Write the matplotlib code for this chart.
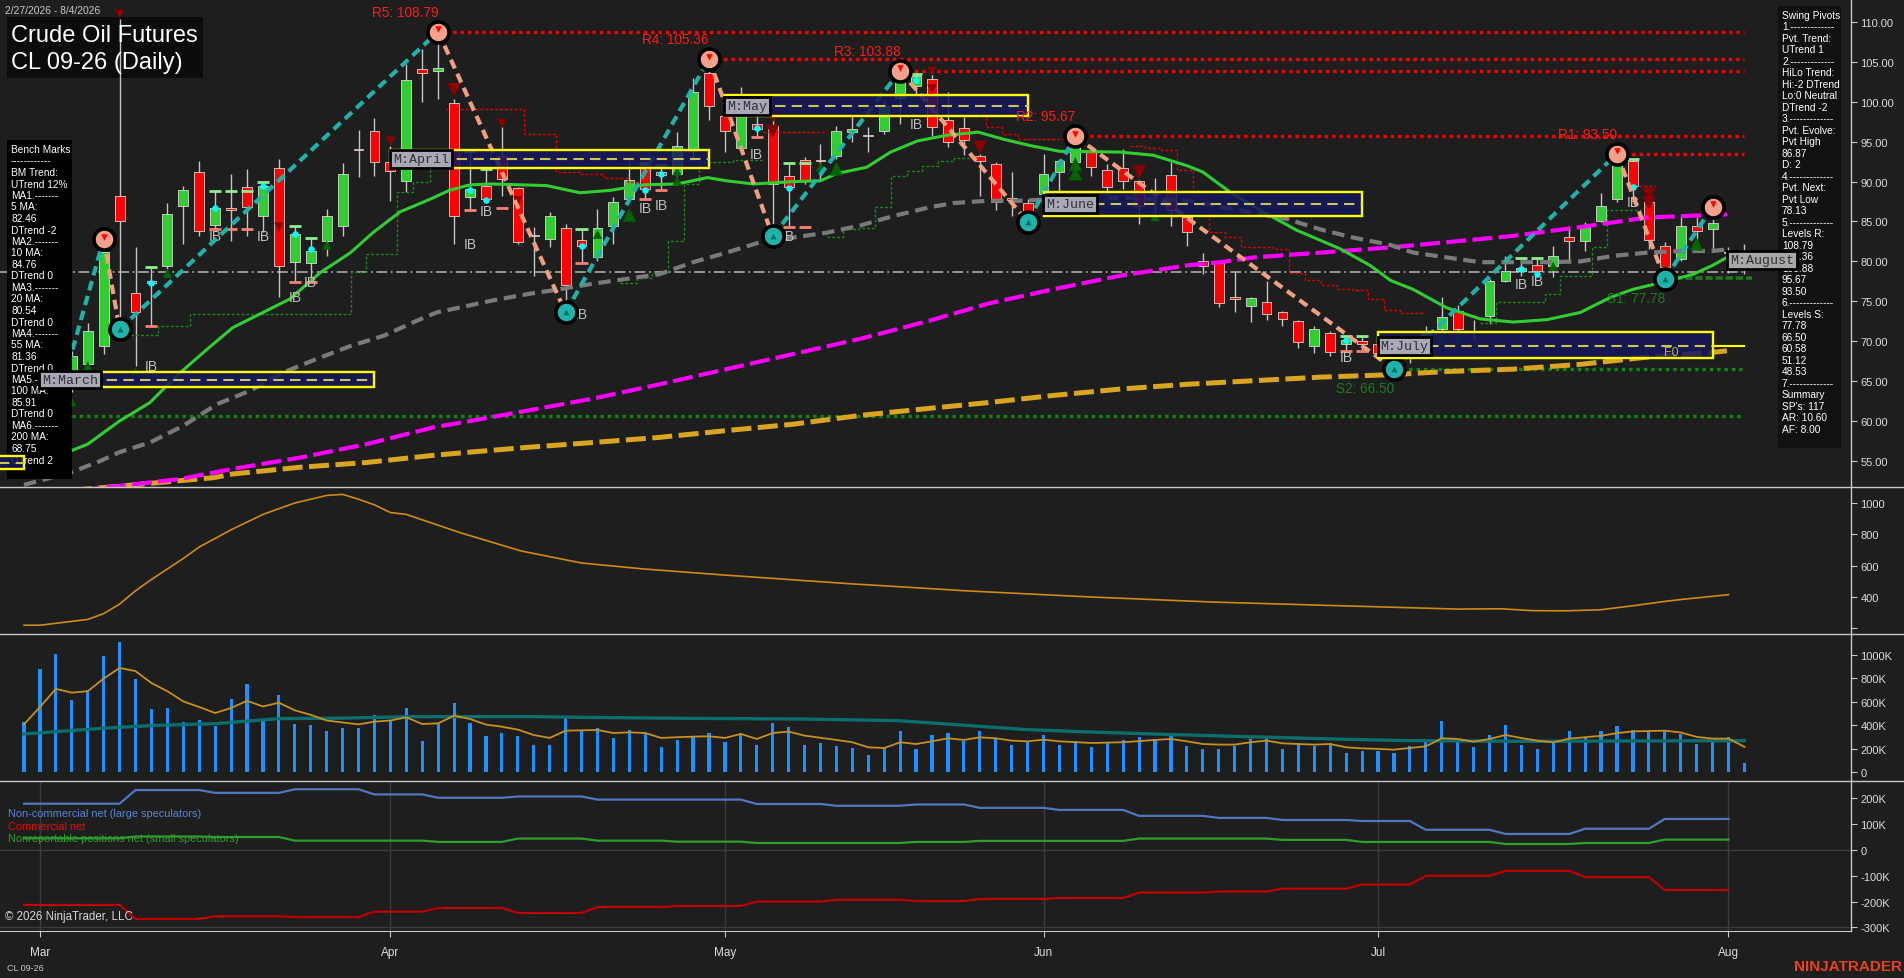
import numpy as np
import pandas as pd
import matplotlib
matplotlib.use("Agg")
import matplotlib.pyplot as plt
from matplotlib.patches import Rectangle
from matplotlib.lines import Line2D

plt.rcParams['font.family'] = ['Liberation Sans', 'DejaVu Sans']

# ---------------- data ----------------
holidays = ["2026-04-03", "2026-05-25", "2026-06-19", "2026-07-03"]
dates = pd.bdate_range("2026-02-27", "2026-08-04")
dates = dates[~dates.isin(pd.to_datetime(holidays))]

opens = [64.5, 65.6, 63.8, 64.9, 67.14, 69.44, 88.24, 76.0, 77.58, 79.47, 86.9, 91.16, 84.56, 86.55, 89.28,
         85.65, 91.66, 79.96, 79.76, 82.6, 84.48, 93.95, 96.3, 92.41, 90.12, 104.11, 103.82, 99.85, 88.03, 89.49,
         93.16, 89.15, 83.31, 82.8, 84.14, 82.72, 80.51, 84.48, 87.82, 92.12, 91.16, 90.95, 93.87, 103.61, 98.26,
         94.21, 97.22, 97.13, 90.74, 92.7, 92.6, 93.25, 96.17, 95.75, 96.38, 100.43, 102.02, 102.86, 97.76, 96.67,
         93.25, 92.2, 87.8, 87.32, 88.44, 91.16, 92.41, 93.87, 91.49, 91.66, 90.03, 88.6, 90.87, 85.52, 80.09,
         79.88, 75.35, 74.37, 74.87, 73.61, 72.57, 69.44, 71.03, 69.65, 70.06, 69.6, 68.3, 67.9, 69.4, 71.53,
         73.82, 71.32, 73.2, 77.58, 78.84, 79.55, 79.47, 83.01, 82.6, 85.1, 87.82, 92.62, 87.4, 81.97, 80.3,
         84.48, 84.06, 81.2, 79.4]
highs = [66.2, 66.8, 65.5, 68.8, 72.28, 82.8, 110.4, 81.76, 79.25, 87.32, 89.49, 92.54, 88.86, 90.95, 91.58,
         89.91, 92.83, 84.48, 82.89, 86.56, 92.33, 96.46, 97.97, 94.5, 104.73, 106.62, 108.79, 100.35, 93.87, 91.58,
         96.8, 89.28, 84.35, 86.15, 84.68, 84.06, 86.56, 88.03, 93.87, 92.29, 92.12, 96.17, 102.98, 105.36, 100.77,
         101.81, 100.43, 98.68, 92.33, 93.04, 94.71, 97.01, 98.47, 96.8, 100.14, 103.88, 103.48, 103.48, 101.18, 98.05,
         93.46, 92.41, 91.16, 87.82, 93.46, 92.83, 95.67, 94.5, 92.2, 94.08, 90.12, 90.41, 92.41, 85.73, 81.05,
         80.09, 78.63, 75.58, 77.58, 73.82, 72.7, 71.95, 71.24, 70.61, 70.61, 70.4, 69.2, 70.0, 71.95, 75.58,
         74.53, 72.7, 77.79, 80.72, 80.38, 80.38, 81.97, 84.48, 84.89, 88.57, 93.5, 92.83, 87.82, 82.39, 85.73,
         85.52, 86.87, 81.8, 82.18]
lows = [63.4, 63.0, 61.5, 63.6, 66.2, 68.4, 71.5, 66.93, 71.95, 79.05, 82.18, 83.14, 84.06, 82.6, 83.22,
        83.64, 75.58, 77.37, 77.37, 80.72, 83.22, 90.62, 90.74, 87.61, 88.65, 100.01, 100.35, 82.18, 86.48, 87.4,
        88.24, 82.18, 78.21, 81.76, 73.6, 79.8, 80.09, 82.18, 87.4, 87.82, 88.99, 90.74, 92.83, 97.76, 93.75,
        93.87, 95.55, 83.14, 84.31, 89.7, 90.12, 92.83, 94.92, 93.66, 95.96, 97.22, 100.77, 95.75, 94.38, 93.33,
        88.15, 86.48, 85.73, 84.98, 88.24, 88.24, 92.2, 90.74, 87.82, 89.07, 84.68, 86.15, 84.48, 81.89, 78.42,
        74.24, 73.61, 72.36, 72.7, 71.95, 69.1, 68.52, 68.1, 68.81, 68.81, 67.6, 66.5, 67.3, 69.0, 71.11,
        71.11, 70.27, 72.15, 77.37, 78.21, 78.29, 78.0, 80.09, 81.34, 84.89, 87.4, 87.82, 81.55, 77.78, 80.09,
        81.13, 81.13, 78.6, 78.42]
closes = [65.6, 63.8, 64.9, 68.2, 71.23, 81.13, 85.1, 73.6, 77.29, 85.94, 88.95, 83.77, 86.65, 86.5, 86.77,
          89.49, 79.38, 83.43, 81.34, 85.65, 90.95, 93.9, 92.5, 91.37, 102.73, 103.61, 104.23, 85.65, 89.07, 87.82,
          90.32, 82.47, 83.14, 85.65, 77.08, 81.97, 84.14, 87.4, 90.2, 89.07, 90.87, 94.42, 101.27, 99.51, 96.38,
          100.56, 96.59, 89.7, 89.28, 90.12, 92.55, 96.38, 96.59, 95.7, 99.51, 102.65, 103.27, 96.88, 95.0, 95.25,
          92.62, 87.4, 87.75, 86.15, 90.95, 92.62, 94.29, 91.79, 89.28, 90.12, 86.98, 88.55, 86.48, 83.64, 79.47,
          74.79, 75.3, 75.37, 73.41, 72.78, 69.86, 71.53, 68.69, 70.19, 69.65, 68.5, 67.8, 69.3, 71.0, 72.99,
          71.53, 71.11, 77.58, 78.84, 79.13, 78.84, 80.72, 82.6, 84.27, 86.9, 92.41, 89.49, 82.72, 79.25, 84.48,
          83.85, 84.81, 81.0, 79.2]

# moving averages (bar position, price)
ma20_x = [0, 3, 4, 6, 7.9, 9.6, 11.5, 13.1, 15, 16.7, 18.6, 20.5, 21.9, 23.6, 25.5, 26.7, 28, 29.4, 32.8, 34.9,
          36.8, 38.9, 41, 42.9, 44.1, 45.8, 48.3, 50, 51, 52.9, 54.4, 56.1, 57.9, 59.9, 61.5, 63.2, 65, 68.8, 70.9,
          73, 74, 75.7, 77.8, 79.9, 82.6, 84.5, 85.8, 87.2, 89.3, 91.4, 93.5, 95.6, 97.7, 99.6, 101, 102.9, 104.8,
          106, 106.9]
ma20_y = [54.2, 56.3, 57.1, 60.0, 62.3, 65.7, 69.0, 71.7, 73.6, 75.3, 78.6, 81.1, 83.6, 86.2, 87.8, 88.9, 89.6,
          89.7, 89.5, 88.6, 88.9, 89.6, 89.7, 90.5, 90.1, 89.7, 90.0, 90.1, 91.0, 91.8, 93.7, 95.1, 95.8, 96.2, 95.3,
          94.5, 93.8, 93.7, 93.3, 92.0, 91.2, 88.7, 86.2, 83.9, 81.6, 79.5, 77.6, 76.5, 74.2, 72.8, 72.4, 72.7, 73.6,
          75.5, 76.5, 77.4, 78.4, 79.5, 80.5]
ma55_x = [0, 3, 4.8, 6, 7.9, 10, 12.1, 14.2, 16.3, 18.4, 20.5, 22.6, 24.7, 25.9, 28, 29.4, 31.6, 33.6, 35.7, 37.8,
          39.9, 42, 44.1, 46.2, 48.3, 50.4, 52.5, 54.6, 56.9, 58.3, 60.5, 62.5, 64.6, 68.8, 73, 77.2, 79.3, 81.4,
          83.4, 85.8, 87.2, 89.3, 91.4, 93.5, 95.6, 97.7, 99.8, 101.9, 104, 106, 106.9]
ma55_y = [52.0, 53.6, 55.0, 56.1, 57.3, 59.4, 62.1, 63.8, 66.1, 67.8, 69.4, 70.7, 72.6, 73.6, 74.5, 75.1, 75.9,
          76.5, 77.2, 77.8, 78.4, 79.9, 81.1, 82.4, 83.0, 83.6, 84.5, 85.7, 86.8, 87.3, 87.6, 87.6, 87.8, 88.0, 87.6,
          86.1, 85.3, 84.0, 83.0, 82.05, 81.1, 80.5, 79.9, 79.9, 79.9, 80.0, 80.7, 81.1, 81.3, 81.3, 81.5]
ma100_x = [3.5, 9.8, 13.1, 17.3, 21.5, 25.7, 28, 31.6, 35.7, 39.9, 44.1, 48.3, 52.5, 56.9, 60.5, 64.6, 68.8, 73,
           75.1, 77.2, 81.4, 85.8, 89.3, 93.5, 97.7, 101.9, 106.9]
ma100_y = [51.3, 52.73, 54.0, 55.4, 57.1, 59.2, 60.0, 61.3, 62.8, 64.6, 66.5, 68.4, 70.3, 72.6, 74.7, 76.5, 78.2,
           79.5, 79.9, 80.5, 81.1, 81.76, 82.4, 83.2, 84.3, 85.5, 85.9]
ma200_x = [3, 11.9, 13.1, 17.3, 21.5, 25.7, 28, 31.6, 35.7, 39.9, 44.1, 48.3, 52.5, 56.9, 60.5, 64.6, 68.8, 73,
           77.2, 81.4, 85.8, 89.3, 93.5, 97.7, 101.9, 106, 106.9]
ma200_y = [51.3, 52.9, 53.36, 54.2, 54.8, 55.7, 56.1, 56.7, 57.3, 57.95, 58.8, 59.6, 60.7, 61.6, 62.3, 63.2, 64.0,
           64.6, 65.05, 65.5, 65.8, 66.2, 66.5, 67.1, 68.0, 68.6, 68.8]

# swing pivots
piv_bar = [2, 5, 6, 26, 34, 43, 47, 55, 63, 66, 86, 100, 103, 106]
piv_price = [61.5, 82.8, 71.5, 108.79, 73.6, 105.36, 83.14, 103.88, 84.98, 95.67, 66.5, 93.5, 77.78, 86.87]
piv_kind = ['L', 'H', 'L', 'H', 'L', 'H', 'L', 'H', 'L', 'H', 'L', 'H', 'L', 'H']

# resistance / support levels
res_names = ["R5", "R4", "R3", "R2", "R1"]
res_levels = [108.79, 105.36, 103.88, 95.67, 93.50]
res_start = [26, 43, 55, 66, 100]
sup_names = ["S1", "S2", "S3"]
sup_levels = [77.78, 66.50, 60.58]
sup_start = [103, 86, 3]
level_end = 108
mid_line = 78.71

# monthly boxes
box_names = ["", "M:March", "M:April", "M:May", "M:June", "M:July"]
box_start = [-5, 1, 23, 44, 64, 85]
box_end = [0, 22, 43, 63, 84, 106]
box_lo = [54.0, 64.2, 91.7, 98.22, 85.7, 67.9]
box_hi = [55.6, 66.1, 93.96, 100.85, 88.7, 71.15]
box_mid = [54.8, 65.2, 92.83, 99.5, 87.23, 69.44]
aug_bar, aug_price = 107, 80.2

# trailing step lines (start bar of each step, level)
green_steps = [
    ([6.4, 8.4, 10.4, 20.5, 21.5, 23.4, 24.4, 25.5, 26.7], [70.8, 71.95, 73.4, 78.7, 80.9, 88.65, 90.0, 91.6, 91.6]),
    ([37.4, 38.5, 39.4, 40.4, 41.4, 42.4, 43.4, 44.5, 46.4], [77.3, 77.9, 78.55, 82.6, 89.7, 92.4, 92.5, 92.7, 92.7]),
    ([50.4, 51.4, 52.4, 53.4, 54.4, 55.4, 56.4, 57.4, 58.4, 59.4], [83.0, 84.06, 84.2, 86.77, 90.74, 91.3, 92.0, 92.6, 93.0, 93.0]),
    ([91.4, 92.4, 95.5, 96.4, 98.4, 99.4, 101.5], [72.28, 74.95, 75.9, 78.13, 81.76, 86.44, 86.44]),
]
red_steps = [
    ([26.5, 31.4, 33.4, 34.9, 36.4, 37.9, 38.9], [99.1, 96.0, 91.16, 90.95, 90.5, 89.9, 89.9]),
    ([46.4, 50.4], [96.17, 96.17]),
    ([59.5, 60.4, 61.4, 62.4, 65.4], [98.68, 96.8, 96.0, 95.3, 95.3]),
    ([69.4, 70.4, 71.4, 72.4, 73.4, 74.4, 75.4, 76.4, 78.4, 79.4, 80.4, 81.4, 82.4, 83.4, 84.4, 85.4, 86.4, 87.8],
     [94.4, 94.2, 93.9, 91.45, 87.82, 83.64, 83.0, 81.76, 81.55, 78.55, 77.66, 77.04, 76.6, 76.4, 75.3, 73.95, 73.5, 73.5]),
    ([101.4, 102.4], [89.4, 89.4]),
]

# markers
tri_dn_bar = [6, 16, 23, 27, 30, 31, 38, 40, 47, 47, 57, 57, 60, 70, 102, 102]
tri_dn_price = [111.0, 84.3, 95.1, 101.5, 97.3, 87.6, 93.5, 92.6, 98.2, 96.3, 103.8, 101.6, 94.3, 91.2, 88.4, 87.3]
tri_dn_big = [0, 0, 0, 1, 0, 0, 0, 0, 1, 1, 0, 0, 1, 1, 1, 1]
tri_up_bar = [3, 4, 7, 9, 19, 36, 38, 41, 41, 50, 51, 66, 66, 68, 71, 89, 90, 96, 105]
tri_up_price = [62.4, 66.9, 66.1, 78.5, 82.05, 83.4, 85.8, 91.3, 90.1, 91.8, 91.6, 92.2, 91.0, 87.8, 85.6, 70.3, 70.3, 79.4, 82.2]
tri_up_big = [0, 0, 0, 0, 0, 0, 1, 0, 0, 0, 1, 1, 1, 0, 0, 1, 0, 0, 1]

ib_bar = [8, 12, 15, 17, 18, 28, 29, 35, 39, 40, 46, 48, 56, 65, 83, 94, 95, 101]
ib_price = [66.9, 83.2, 83.2, 75.5, 77.4, 82.2, 86.3, 73.4, 86.7, 87.1, 93.5, 83.2, 97.2, 86.9, 68.0, 77.2, 77.5, 87.4]
tick_bar = [8, 12, 13, 14, 15, 17, 18, 28, 29, 30, 35, 39, 40, 46, 48, 49, 56, 83, 84, 94, 95, 101]
tick_hi = [79.25, 88.86, 88.86, 88.86, 89.91, 84.48, 82.89, 93.87, 91.58, np.nan, 84.06, 92.29, 92.12, 100.43,
           92.33, 92.33, 103.48, 70.61, 70.61, 80.38, 80.38, 92.83]
tick_lo = [71.95, 84.06, 84.06, 84.06, np.nan, 77.37, 77.37, 86.48, np.nan, 86.69, 79.8, 87.82, 88.99, 95.55,
           84.31, 84.31, np.nan, 68.81, 68.81, np.nan, np.nan, np.nan]
dot_bar = [8, 12, 15, 17, 18, 28, 29, 35, 39, 40, 46, 48, 56, 83, 94, 95, 101]
dot_price = [77.3, 86.7, 89.4, 83.4, 81.5, 89.0, 87.7, 81.9, 88.9, 90.9, 96.7, 89.2, 102.7, 70.2, 79.1, 78.4, 89.3]

# panel 2 line (bar, value)
osc_x = [0, 1, 4, 5, 6, 7, 8, 10, 11, 13, 15, 17, 19, 20, 21, 22, 23, 24, 27.4, 31.2, 35, 38.9, 44, 51.8, 59.4,
         67, 74.6, 82, 90, 92.7, 94.7, 96.8, 98.9, 101, 103, 104, 107]
osc_y = [220, 220, 257, 294, 355, 440, 512, 646, 719, 829, 927, 1000, 1048, 1055, 1024, 988, 939, 927, 810, 694,
         617, 579, 540, 485, 438, 400, 368, 346, 323, 325, 313, 312, 318, 344, 372, 384, 415]

# volume (thousands)
volume = [430, 880, 1010, 618, 700, 994, 1108, 798, 538, 544, 430, 446, 390, 626, 750, 456, 662, 413, 403, 348,
          374, 374, 488, 432, 547, 268, 410, 590, 419, 311, 333, 311, 231, 231, 473, 353, 376, 291, 359, 333,
          216, 273, 311, 333, 259, 333, 231, 419, 387, 234, 248, 225, 205, 148, 205, 353, 197, 319, 333, 262,
          353, 282, 234, 268, 319, 234, 268, 216, 245, 273, 302, 282, 311, 225, 197, 197, 225, 282, 311, 197,
          248, 225, 248, 162, 180, 180, 165, 220, 262, 433, 262, 216, 319, 404, 231, 196, 253, 354, 290, 354,
          395, 363, 338, 363, 322, 237, 253, 300, 80]
vol_avg = [407, 555, 710, 678, 690, 798, 889, 862, 760, 690, 603, 555, 504, 547, 608, 560, 592, 527, 488, 440,
           423, 407, 430, 440, 467, 410, 416, 481, 453, 405, 387, 362, 316, 291, 353, 356, 359, 333, 339, 333,
           291, 297, 302, 305, 291, 325, 282, 333, 345, 311, 292, 274, 254, 211, 205, 254, 239, 262, 288, 274,
           296, 288, 268, 262, 276, 262, 255, 248, 251, 254, 264, 274, 282, 262, 239, 234, 234, 254, 268, 245,
           239, 234, 239, 211, 202, 197, 191, 205, 219, 288, 282, 259, 282, 316, 290, 268, 253, 285, 297, 309,
           332, 347, 350, 353, 338, 300, 285, 285, 215]
vol_long_x = [0, 5, 8, 12, 16, 20, 24, 32, 35, 41.2, 48.5, 54.8, 57, 60.3, 63, 66.2, 70.8, 76.7, 82.2, 86.8, 94.5, 108]
vol_long_y = [325, 374, 397, 413, 456, 460, 472, 473, 467, 459, 453, 439, 419, 387, 362, 345, 325, 302, 282, 268, 262, 268]

# COT weekly net positions (thousands)
cot_week_start = [0, 7, 12, 17, 22, 26, 31, 36, 41, 46, 51, 56, 60, 65, 70, 75, 79, 84, 88, 93, 98, 103]
cot_last_bar = 107
cot_noncomm = [179, 232, 221, 235, 215, 202, 207, 195, 195, 178, 171, 176, 163, 155, 132, 124, 116, 112, 78, 62, 82, 120]
cot_comm = [-213, -267, -257, -260, -239, -225, -244, -221, -217, -200, -193, -198, -190, -186, -165, -161, -150,
            -134, -100, -81, -105, -155]
cot_small = [45, 52, 50, 36, 36, 31, 44, 36, 32, 27, 27, 31, 35, 35, 44, 44, 39, 31, 31, 23, 27, 40]

bench_lines = ["Bench Marks", "------------", "BM Trend:", "UTrend 12%", "MA1.-------", "5 MA:", "82.46",
               "DTrend -2", "MA2.-------", "10 MA:", "84.76", "DTrend 0", "MA3.-------", "20 MA:", "80.54",
               "DTrend 0", "MA4.-------", "55 MA:", "81.36", "DTrend 0", "MA5.-------", "100 MA:", "85.91",
               "DTrend 0", "MA6.-------", "200 MA:", "68.75", "UTrend 2"]
pivot_lines = ["Swing Pivots", "1.-------------", "Pvt. Trend:", "UTrend 1", "2.-------------", "HiLo Trend:",
               "Hi:-2 DTrend", "Lo:0 Neutral", "DTrend -2", "3.-------------", "Pvt. Evolve:", "Pvt High",
               "86.87", "D: 2", "4.-------------", "Pvt. Next:", "Pvt Low", "78.13", "5.-------------",
               "Levels R:", "108.79", "105.36", "103.88", "95.67", "93.50", "6.-------------", "Levels S:",
               "77.78", "66.50", "60.58", "51.12", "48.53", "7.-------------", "Summary", "SP's: 117",
               "AR: 10.60", "AF: 8.00"]

# ---------------- layout ----------------
W, H, DPI = 1904, 979, 100
BG = '#1E1E1E'
AXC = '#C8C8C8'
LBL = '#DCDCDC'
XR = 1851.0

fig = plt.figure(figsize=(W / DPI, H / DPI), dpi=DPI, facecolor=BG)


def frame(top, bot):
    return [0, 1 - bot / H, XR / W, (bot - top) / H]


ax1 = fig.add_axes(frame(0, 488))
ax2 = fig.add_axes(frame(488, 635))
ax3 = fig.add_axes(frame(635, 782))
ax4 = fig.add_axes(frame(782, 932))

n = len(dates)
XL = (-1.507, 114.69)
for ax in (ax1, ax2, ax3, ax4):
    ax.set_facecolor(BG)
    ax.set_xlim(*XL)
    for s in ('top', 'left', 'bottom'):
        ax.spines[s].set_visible(False)
    ax.spines['right'].set_color(AXC)
    ax.spines['right'].set_linewidth(1.0)
    ax.yaxis.tick_right()
    ax.tick_params(axis='y', which='both', direction='out', length=4.3, width=0.8, colors=AXC,
                   labelcolor=LBL, labelsize=8, pad=2.5, left=False, right=True,
                   labelleft=False, labelright=True)
    ax.tick_params(axis='x', bottom=False, labelbottom=False)

ax1.set_ylim(51.73, 112.88)
ax2.set_ylim(164, 1102)
ax3.set_ylim(-77, 1179)
ax4.set_ylim(-314, 267)

pt = [55, 60, 65, 70, 75, 80, 85, 90, 95, 100, 105, 110]
ax1.set_yticks(pt)
ax1.set_yticklabels(["%.2f" % v for v in pt])
ax2.set_yticks([200, 400, 600, 800, 1000])
ax2.set_yticklabels(['', '400', '600', '800', '1000'])
vt = [0, 200, 400, 600, 800, 1000]
ax3.set_yticks(vt)
ax3.set_yticklabels(['0' if v == 0 else '%dK' % v for v in vt])
ct = [-300, -200, -100, 0, 100, 200]
ax4.set_yticks(ct)
ax4.set_yticklabels(['0' if v == 0 else '%dK' % v for v in ct])

# month ticks
mstart = []
mlab = []
for i in range(1, n):
    if dates[i].month != dates[i - 1].month:
        mstart.append(i)
        mlab.append(dates[i].strftime('%b'))
ax4.spines['bottom'].set_visible(True)
ax4.spines['bottom'].set_color(AXC)
ax4.set_xticks(mstart)
ax4.set_xticklabels(mlab)
ax4.tick_params(axis='x', bottom=True, labelbottom=True, direction='out', length=4, width=0.8,
                colors=AXC, labelcolor=LBL, labelsize=8.5, pad=7)

# separators
for yp in (488, 635, 782):
    fig.add_artist(Line2D([0, 1], [1 - yp / H, 1 - yp / H], color=AXC, lw=1.0, transform=fig.transFigure))


def fa(xp, yp):
    return (xp / XR, 1 - yp / 488.0)


# ---------------- price panel ----------------
T1 = ax1.transAxes
ax1.add_patch(Rectangle(fa(7, 79), 196 / XR, 61 / 488.0, transform=T1, fc='#0C0C0C', ec='none', zorder=2))
ax1.text(*fa(11, 36), "Crude Oil Futures", transform=T1, color='white', fontsize=17, va='center', zorder=10)
ax1.text(*fa(11, 63), "CL 09-26 (Daily)", transform=T1, color='white', fontsize=17, va='center', zorder=10)
ax1.text(*fa(5, 11), "2/27/2026 - 8/4/2026", transform=T1, color='#C8C8C8', fontsize=7.4, va='center', zorder=10)

# levels
dot = (0, (1, 1.2))
ax1.plot([-1.6, level_end], [mid_line, mid_line], color='#A0A0A0', lw=1.3, ls=(0, (6, 2, 1, 2)), zorder=2.6)
for nm, lv, st in zip(res_names, res_levels, res_start):
    ax1.plot([st, level_end], [lv, lv], color='#FF0000', lw=2.4, ls=dot, zorder=2.5)
    ax1.annotate("%s: %.2f" % (nm, lv), xy=(st, lv), xytext=(0, 14.5), textcoords='offset points',
                 ha='right', va='center', color='#FF1A1A', fontsize=9.8, zorder=9)
for k, (nm, lv, st) in enumerate(zip(sup_names, sup_levels, sup_start)):
    if k == 0:
        ax1.plot([st, level_end + 0.5], [lv + 0.1, lv + 0.1], color='#1E7A1E', lw=2.6, ls=(0, (2, 0.8)), zorder=2.5)
    else:
        ax1.plot([st, level_end], [lv, lv], color='#0A8C0A', lw=2.4, ls=dot, zorder=2.5)
    ax1.annotate("%s: %.2f" % (nm, lv), xy=(st, lv), xytext=(0, -13.5), textcoords='offset points',
                 ha='right', va='center', color='#1E7A1E', fontsize=9.8, zorder=9)

# step lines
for xs, ys in green_steps:
    ax1.step(xs, ys, where='post', color='#1A8A1A', lw=1.0, ls=(0, (2, 1.5)), zorder=3.5)
for xs, ys in red_steps:
    ax1.step(xs, ys, where='post', color='#E00000', lw=1.0, ls=(0, (2, 1.5)), zorder=3.5)

# candles
for i in range(n):
    o, h, l, c = opens[i], highs[i], lows[i], closes[i]
    col = '#32CD32' if c >= o else '#FF0000'
    ax1.plot([i, i], [l, h], color='#C4C4C4', lw=1.0, zorder=3, solid_capstyle='butt')
    b0 = min(o, c)
    bh = max(abs(c - o), 0.18)
    ax1.add_patch(Rectangle((i - 0.31, b0), 0.62, bh, fc=col, ec='#D8D8D8', lw=0.6, zorder=3.1))

# moving averages
ax1.plot(ma200_x, ma200_y, color='#DAA520', lw=3.6, ls=(0, (4, 1.3)), zorder=4)
ax1.plot(ma100_x, ma100_y, color='#FF00FF', lw=3.0, ls=(0, (4.8, 1.5)), zorder=4)
ax1.plot(ma55_x, ma55_y, color='#7A7A7A', lw=3.0, ls=(0, (3, 1.6)), zorder=4)
ax1.plot(ma20_x, ma20_y, color='#32CD32', lw=2.2, zorder=4.1)

# IB ticks, dots, labels, triangles
for b, hi, lo in zip(tick_bar, tick_hi, tick_lo):
    if not np.isnan(hi):
        ax1.plot([b - 0.38, b + 0.38], [hi, hi], color='#90EE90', lw=2, zorder=4.4, solid_capstyle='butt')
    if not np.isnan(lo):
        ax1.plot([b - 0.38, b + 0.38], [lo, lo], color='#FA8072', lw=2, zorder=4.4, solid_capstyle='butt')
ax1.scatter(dot_bar, dot_price, s=22, color='#00FFFF', zorder=4.6, linewidths=0)
for b, p in zip(ib_bar, ib_price):
    ax1.text(b, p, "IB", color='#BEBEBE', fontsize=10, ha='center', va='center', zorder=4.5)
ax1.scatter(tri_dn_bar, tri_dn_price, s=[95 if g else 45 for g in tri_dn_big], marker='v',
            color='#8B0000', zorder=4.5, linewidths=0)
ax1.scatter(tri_up_bar, tri_up_price, s=[95 if g else 45 for g in tri_up_big], marker='^',
            color='#006400', zorder=4.5, linewidths=0)

# zigzag
for k in range(len(piv_bar) - 1):
    up = piv_kind[k] == 'L'
    ax1.plot([piv_bar[k], piv_bar[k + 1]], [piv_price[k], piv_price[k + 1]],
             color='#20B2AA' if up else '#F0A080', lw=3.0, ls=(0, (2.3, 1.4)), zorder=5)
for b, p, kd in zip(piv_bar, piv_price, piv_kind):
    ax1.scatter([b], [p], s=230, facecolor='#F4A08A' if kd == 'H' else '#20B2AA',
                edgecolor='black', linewidths=2.6, zorder=6)
    if kd == 'H':
        ax1.scatter([b], [p + 0.3], s=22, marker='v', color='#FF0000', zorder=6.1, linewidths=0)
    else:
        ax1.scatter([b], [p], s=18, marker='^', color='#0E6E5E', zorder=6.1, linewidths=0)

# month boxes (drawn above the bench-marks panel, as in the reference)
for nm, s, e, lo, hi, md in zip(box_names, box_start, box_end, box_lo, box_hi, box_mid):
    zb = 21.5 if s <= 1 else 7
    ax1.add_patch(Rectangle((s, lo), e - s, hi - lo, fc='#16165C', ec='none', alpha=0.86, zorder=zb))
    ax1.add_patch(Rectangle((s, lo), e - s, hi - lo, fc='none', ec='#FFFF00', lw=1.7, zorder=zb + 0.1))
    ax1.plot([s, e], [md, md], color='#C8C850', lw=1.5, ls=(0, (5, 3)), zorder=zb + 0.2)
    if nm:
        ax1.text(s + 0.15, md, nm, fontfamily='Liberation Mono', fontsize=9.5, color='#303030',
                 ha='left', va='center', zorder=zb + 0.5 if zb > 20 else 8,
                 bbox=dict(boxstyle='square,pad=0.22', fc='#A8A8B6', ec='black', lw=2))
ax1.plot([box_end[-1], level_end], [box_mid[-1], box_mid[-1]], color='#FFFF00', lw=1.5, zorder=7.2)
ax1.text(103.4, 68.65, "F0", color='#B8B040', fontsize=9, ha='center', va='center', zorder=7.3)

# bench marks box
ax1.add_patch(Rectangle(fa(7, 480), 65 / XR, 339 / 488.0, transform=T1, fc='black', ec='none', zorder=20))
for k, s in enumerate(bench_lines):
    ax1.text(*fa(11, 150 + 11.5 * k), s, transform=T1, color='white', fontsize=7.3, va='center', zorder=21)

# swing pivots box
ax1.add_patch(Rectangle(fa(1778, 449), 63 / XR, 442 / 488.0, transform=T1, fc='#111111', ec='none', zorder=20))
for k, s in enumerate(pivot_lines):
    ax1.text(*fa(1782, 15.7 + 11.5 * k), s, transform=T1, color='white', fontsize=7.3, va='center', zorder=21)

ax1.text(aug_bar + 0.1, aug_price, "M:August", fontfamily='Liberation Mono', fontsize=9.5, color='#303030',
         ha='left', va='center', zorder=22,
         bbox=dict(boxstyle='square,pad=0.22', fc='#A8A8A8', ec='black', lw=2))

# ---------------- panel 2 ----------------
ax2.plot(osc_x, osc_y, color='#D08A16', lw=1.2)

# ---------------- volume ----------------
xb = np.arange(n)
ax3.bar(xb, volume, width=0.2, color='#1E90FF', zorder=2)
ax3.plot(vol_long_x, vol_long_y, color='#0B6E6E', lw=2.4, zorder=3)
ax3.plot(xb, vol_avg, color='#C8901E', lw=1.3, zorder=4)

# ---------------- COT ----------------
for m in mstart:
    ax4.axvline(m, color='#3C3C3C', lw=1, zorder=1)
ax4.axhline(0, color='#3C3C3C', lw=1, zorder=1)
ax4.axhline(-300, color='#3C3C3C', lw=1, zorder=1)
cx = []
for k, st in enumerate(cot_week_start):
    en = cot_week_start[k + 1] - 1 if k + 1 < len(cot_week_start) else cot_last_bar
    cx.append((st, en))


def cot_line(vals):
    xs, ys = [], []
    for (st, en), v in zip(cx, vals):
        xs += [st, en]
        ys += [v, v]
    return xs, ys


for vals, col in ((cot_noncomm, '#4F78C0'), (cot_small, '#2E9E2E'), (cot_comm, '#C00000')):
    xs, ys = cot_line(vals)
    ax4.plot(xs, ys, color=col, lw=1.6, zorder=3)

T4 = ax4.transAxes
ax4.text(8 / XR, 1 - 32 / 150, "Non-commercial net (large speculators)", transform=T4, color='#5A84D8',
         fontsize=7.9, va='center', zorder=5)
ax4.text(8 / XR, 1 - 44.6 / 150, "Commercial net", transform=T4, color='#FF0000', fontsize=7.9,
         va='center', zorder=5)
ax4.text(8 / XR, 1 - 56.8 / 150, "Nonreportable positions net (small speculators)", transform=T4,
         color='#2E9E2E', fontsize=7.9, va='center', zorder=5)
ax4.text(5 / XR, 1 - 135 / 150, "\u00a9 2026 NinjaTrader, LLC", transform=T4, color='#D8D8D8',
         fontsize=8.3, va='center', zorder=5)

fig.text(7 / W, 1 - 969 / H, "CL 09-26", color='#C8C8C8', fontsize=6.5, va='center')
fig.text(1902 / W, 1 - 967 / H, "NINJATRADER", color='#E8431C', fontsize=11, fontweight='bold',
         ha='right', va='center')

fig.savefig("out.png", dpi=DPI, facecolor=BG)
